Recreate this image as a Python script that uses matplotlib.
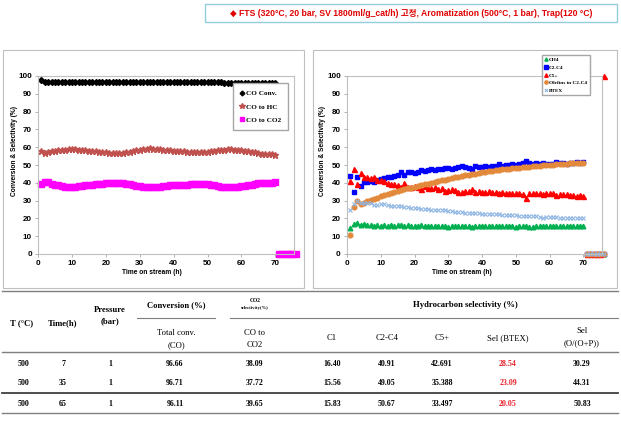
import matplotlib
matplotlib.use("Agg")
import matplotlib.pyplot as plt
from matplotlib.patches import Rectangle
from matplotlib.lines import Line2D

# ---- data -----------------------------------------------------------------
hours = list(range(1, 77))   # time on stream (h); 71-76 = after shutdown

co_conv = [97.6, 96.9, 96.8, 96.7, 96.7, 96.7, 96.66, 96.7, 96.7, 96.7,
           96.7, 96.7, 96.7, 96.7, 96.7, 96.7, 96.7, 96.7, 96.7, 96.7,
           96.7, 96.7, 96.7, 96.7, 96.8, 96.8, 96.8, 96.8, 96.8, 96.8,
           96.8, 96.8, 96.8, 96.7, 96.71, 96.7, 96.7, 96.7, 96.7, 96.6,
           96.6, 96.6, 96.6, 96.6, 96.5, 96.5, 96.5, 96.5, 96.5, 96.4,
           96.4, 96.4, 96.4, 96.4, 96.3, 96.3, 96.3, 96.3, 96.3, 96.3,
           96.2, 96.2, 96.2, 96.2, 96.11, 96.1, 96.1, 96.1, 96.1, 96.1,
           0, 0, 0, 0, 0, 0]
co_to_hc = [58.0, 56.5, 57.3, 57.8, 58.0, 58.3, 58.5, 58.7, 58.8, 58.8,
            58.8, 58.7, 58.5, 58.3, 58.1, 57.9, 57.7, 57.5, 57.3, 57.1,
            57.0, 56.9, 56.8, 56.8, 56.9, 57.2, 57.5, 57.9, 58.3, 58.7,
            59.0, 59.2, 59.3, 59.2, 59.0, 58.9, 58.7, 58.4, 58.2, 58.0,
            57.9, 57.8, 57.6, 57.5, 57.3, 57.2, 57.1, 57.1, 57.2, 57.4,
            57.7, 58.0, 58.3, 58.5, 58.7, 58.8, 58.8, 58.7, 58.5, 58.3,
            58.0, 57.7, 57.4, 57.1, 56.5, 56.4, 56.2, 56.0, 55.9, 55.7,
            0, 0, 0, 0, 0, 0]
co_to_co2 = [39.5, 40.5, 40.2, 39.5, 39.0, 38.5, 38.09, 37.9, 37.8, 37.8,
             37.9, 38.1, 38.3, 38.5, 38.7, 38.9, 39.1, 39.3, 39.5, 39.7,
             39.8, 39.9, 40.0, 40.0, 39.8, 39.5, 39.1, 38.7, 38.3, 38.0,
             37.7, 37.5, 37.4, 37.5, 37.72, 37.9, 38.1, 38.3, 38.5, 38.6,
             38.7, 38.8, 38.9, 39.0, 39.2, 39.3, 39.4, 39.4, 39.3, 39.1,
             38.8, 38.5, 38.2, 37.9, 37.7, 37.6, 37.6, 37.7, 37.9, 38.1,
             38.3, 38.5, 38.8, 39.1, 39.65, 39.7, 39.8, 40.0, 40.1, 40.2,
             0, 0, 0, 0, 0, 0]

sel_ch4 = [14.5, 17.0, 17.5, 16.5, 16.6, 16.5, 16.4, 16.0, 16.2, 16.0,
           16.2, 16.0, 16.1, 16.0, 16.2, 16.3, 15.8, 16.2, 16.0, 16.0,
           15.8, 16.1, 15.9, 15.8, 15.9, 15.6, 15.5, 15.7, 15.6, 15.4,
           15.6, 15.5, 15.6, 15.7, 15.56, 15.6, 15.4, 15.6, 15.5, 15.6,
           15.5, 15.6, 15.5, 15.6, 15.7, 15.5, 15.6, 15.5, 15.6, 15.4,
           15.5, 15.6, 15.9, 15.3, 15.4, 15.6, 15.5, 15.7, 15.5, 15.6,
           15.6, 15.8, 15.7, 15.8, 15.83, 15.9, 15.8, 16.0, 15.9, 15.8,
           0, 0, 0, 0, 0, 0]
sel_c2c4 = [44.0, 35.0, 43.0, 38.0, 40.5, 40.5, 40.9, 40.5, 41.5, 42.0,
            42.5, 43.0, 43.5, 44.0, 44.5, 46.0, 44.5, 46.0, 46.0, 45.5,
            46.0, 47.0, 46.5, 47.0, 47.5, 47.0, 48.0, 47.5, 48.5, 48.5,
            48.0, 48.5, 49.0, 49.5, 49.05, 48.5, 48.0, 49.5, 49.0, 49.0,
            49.5, 49.0, 49.5, 49.5, 50.5, 49.5, 50.0, 50.0, 50.5, 50.0,
            50.5, 51.0, 52.5, 51.0, 50.5, 51.0, 50.5, 51.0, 50.5, 50.5,
            50.5, 51.5, 51.0, 51.0, 50.67, 51.0, 51.0, 51.5, 51.0, 51.5,
            0, 0, 0, 0, 0, 0]
sel_c5 = [41.0, 48.0, 39.5, 45.5, 43.0, 43.0, 42.7, 43.5, 41.5, 41.5,
          41.0, 40.0, 39.5, 39.5, 39.0, 37.5, 40.0, 37.5, 37.5, 38.0,
          37.5, 36.5, 38.0, 37.0, 37.0, 37.5, 36.5, 37.0, 35.5, 36.0,
          36.5, 36.0, 35.0, 35.0, 35.39, 35.5, 36.5, 35.0, 35.5, 35.0,
          35.0, 35.5, 35.0, 35.0, 34.0, 35.0, 34.5, 34.5, 34.0, 34.5,
          34.0, 33.5, 31.5, 34.0, 34.5, 34.0, 34.0, 33.5, 34.0, 34.0,
          34.0, 33.0, 33.5, 33.5, 33.5, 33.0, 33.0, 32.5, 33.0, 32.5,
          0, 0, 0, 0, 0, 100]
sel_olefin = [10.5, 26.5, 30.0, 28.0, 28.8, 29.5, 30.3, 31.0, 31.7, 32.4,
              33.0, 33.6, 34.2, 34.8, 35.3, 35.8, 36.3, 36.8, 37.3, 37.8,
              38.3, 38.7, 39.2, 39.6, 40.1, 40.5, 40.9, 41.4, 41.8, 42.2,
              42.7, 43.1, 43.5, 43.9, 44.3, 44.6, 44.9, 45.2, 45.5, 45.8,
              46.1, 46.4, 46.7, 47.0, 47.2, 47.5, 47.7, 47.9, 48.1, 48.3,
              48.5, 48.7, 48.9, 49.1, 49.3, 49.5, 49.6, 49.8, 49.9, 50.0,
              50.2, 50.3, 50.5, 50.6, 50.8, 50.9, 51.0, 51.1, 51.2, 51.3,
              0, 0, 0, 0, 0, 0]
sel_btex = [24.5, 28.0, 30.0, 28.5, 28.5, 28.5, 28.54, 27.8, 27.5, 28.0,
            28.0, 27.5, 27.2, 27.0, 26.8, 27.0, 26.5, 26.3, 26.0, 26.0,
            25.8, 25.5, 25.2, 25.3, 25.0, 24.8, 24.7, 24.6, 24.5, 24.3,
            24.0, 23.8, 23.5, 23.4, 23.09, 23.2, 23.0, 22.9, 22.8, 22.7,
            22.6, 22.5, 22.4, 22.3, 22.5, 22.1, 22.0, 21.9, 21.8, 21.7,
            21.6, 21.5, 21.4, 21.3, 21.2, 21.1, 21.0, 20.5, 20.8, 20.9,
            20.8, 20.6, 20.4, 20.2, 20.05, 20.0, 20.0, 20.0, 20.0, 20.0,
            0, 0, 0, 0, 0, 0]

# summary table
tbl_temp = ["500", "500", "500"]
tbl_time = ["7", "35", "65"]
tbl_press = ["1", "1", "1"]
tbl_conv = ["96.66", "96.71", "96.11"]
tbl_co2 = ["38.09", "37.72", "39.65"]
tbl_c1 = ["16.40", "15.56", "15.83"]
tbl_c2c4 = ["40.91", "49.05", "50.67"]
tbl_c5 = ["42.691", "35.388", "33.497"]
tbl_btex = ["28.54", "23.09", "20.05"]
tbl_ole = ["30.29", "44.31", "50.83"]

TITLE = "\u25c6 FTS (320\u00b0C, 20 bar, SV 1800ml/g_cat/h) 고정, Aromatization (500\u00b0C, 1 bar), Trap(120 \u00b0C)"

# ---- layout helpers (pixel coords of the 621x422 picture) -----------------
W, H = 621, 422
SANS = ["Liberation Sans", "DejaVu Sans"]
SERIF = ["Liberation Serif", "DejaVu Serif"]


def fx(x):
    return x / W


def fy(y):
    return 1 - y / H


def hline(fig, x0, x1, y, color="#7F7F7F", lw=1.0):
    fig.add_artist(Line2D([fx(x0), fx(x1)], [fy(y), fy(y)],
                          transform=fig.transFigure, color=color, lw=lw))


def box(fig, x0, y0, x1, y1, ec, lw=0.8):
    fig.add_artist(Rectangle((fx(x0), fy(y1)), (x1 - x0) / W, (y1 - y0) / H,
                             transform=fig.transFigure, fill=False, ec=ec, lw=lw))


def style_axes(ax):
    ax.set_xlim(0, 75.5)
    ax.set_ylim(0, 100)
    ax.set_xticks(range(0, 71, 10))
    ax.set_yticks(range(0, 101, 10))
    for s in ax.spines.values():
        s.set_color("#BFBFBF")
        s.set_linewidth(0.8)
    ax.tick_params(length=2, width=0.6, color="#A6A6A6", pad=2.5,
                   labelsize=5.8)
    for lab in ax.get_xticklabels() + ax.get_yticklabels():
        lab.set_family(SANS)
        lab.set_fontweight("bold")


fig = plt.figure(figsize=(W / 100, H / 100), dpi=100)

# title box
box(fig, 205, 4, 617, 22, ec="#92CDDC", lw=1.0)
fig.text(fx(411), fy(13.5), TITLE, ha="center", va="center", color="#E00000",
         fontsize=6.2, fontweight="bold",
         family=["Liberation Sans", "DejaVu Sans", "Noto Sans CJK KR"])

# chart panels
box(fig, 3, 50, 304, 288, ec="#BFBFBF")
box(fig, 313, 50, 617, 288, ec="#BFBFBF")

# ---- left chart: conversion ----------------------------------------------
ax1 = fig.add_axes([fx(38), fy(254), (294 - 38) / W, (254 - 76) / H])
ax1.plot(hours, co_conv, ls="none", marker="D", ms=3.0, color="black",
         clip_on=False, label="CO Conv.")
ax1.plot(hours, co_to_hc, ls="none", marker="*", ms=5.0, color="#C0504D",
         clip_on=False, label="CO to HC")
ax1.plot(hours, co_to_co2, ls="none", marker="s", ms=3.8, color="#FF00FF",
         clip_on=False, label="CO to CO2")
style_axes(ax1)
ax1.legend(loc="upper left", bbox_to_anchor=(fx(233), fy(83)),
           bbox_transform=fig.transFigure,
           prop=dict(family=SERIF, weight="bold", size=5.2),
           fancybox=False, edgecolor="#A6A6A6", framealpha=1,
           borderpad=1.0, labelspacing=1.0, handlelength=0.6,
           handletextpad=0.2, borderaxespad=0, markerscale=0.8)

# ---- right chart: hydrocarbon selectivity --------------------------------
ax2 = fig.add_axes([fx(347), fy(254), (602 - 347) / W, (254 - 76) / H])
ax2.plot(hours, sel_ch4, ls="none", marker="^", ms=3.3, color="#00B050",
         clip_on=False, label="CH4")
ax2.plot(hours, sel_c2c4, ls="none", marker="s", ms=3.4, color="#0000FF",
         clip_on=False, label="C2-C4")
ax2.plot(hours, sel_c5, ls="none", marker="^", ms=3.6, color="#FF0000",
         clip_on=False, label="C5+")
ax2.plot(hours, sel_olefin, ls="none", marker="o", ms=3.4, color="#E3893B",
         clip_on=False, label="Olefins in C2-C4")
ax2.plot(hours, sel_btex, ls="none", marker="x", ms=2.8, mew=0.8,
         color="#8DB4E2", clip_on=False, label="BTEX")
style_axes(ax2)
ax2.legend(loc="upper left", bbox_to_anchor=(fx(542), fy(55)),
           bbox_transform=fig.transFigure,
           prop=dict(family=SERIF, weight="bold", size=3.8),
           fancybox=False, edgecolor="#A6A6A6", framealpha=1,
           borderpad=0.5, labelspacing=0.55, handlelength=0.6,
           handletextpad=0.2, borderaxespad=0, markerscale=0.7)

for xc, xl in [(15, 152), (323, 462)]:
    fig.text(fx(xc), fy(151), "Conversion & Selectivity (%)", rotation=90,
             ha="center", va="center", fontsize=4.8, fontweight="bold",
             family=SANS)
    fig.text(fx(xl), fy(272), "Time on stream (h)", ha="center", va="center",
             fontsize=4.8, fontweight="bold", family=SANS)

# ---- table -----------------------------------------------------------------
hline(fig, 2, 618, 291)
hline(fig, 137, 215, 318, lw=0.8)
hline(fig, 230, 618, 318, lw=0.8)
hline(fig, 2, 618, 352)
hline(fig, 2, 618, 393, color="#404040", lw=1.3)
hline(fig, 2, 618, 413)


def ttext(x, y, s, size=6.2, bold=True, color="black"):
    fig.text(fx(x), fy(y), s, ha="center", va="center", fontsize=size,
             fontweight="bold" if bold else "normal", color=color,
             family=SERIF)


ttext(22, 323, "T (\u00b0C)")
ttext(63, 323, "Time(h)")
ttext(110, 310, "Pressure")
ttext(110, 321, "(bar)")
ttext(176, 305, "Conversion (%)")
ttext(255, 300, "CO2", size=4.0)
ttext(255, 308, "selectivity(%)", size=3.3)
ttext(465, 305, "Hydrocarbon selectivity (%)")

ttext(176, 333, "Total conv.", bold=False)
ttext(176, 345, "(CO)", bold=False)
ttext(255, 333, "CO to", bold=False)
ttext(255, 345, "CO2", bold=False)
ttext(332, 338, "C1", bold=False)
ttext(387, 338, "C2-C4", bold=False)
ttext(442, 338, "C5+", bold=False)
ttext(508, 338, "Sel (BTEX)", bold=False)
ttext(582, 331, "Sel", bold=False)
ttext(582, 343, "(O/(O+P))", bold=False)

row_y = [364, 383, 404]
cols = [(23, tbl_temp), (63, tbl_time), (110, tbl_press), (175, tbl_conv),
        (255, tbl_co2), (332, tbl_c1), (387, tbl_c2c4), (442, tbl_c5),
        (582, tbl_ole)]
for i, y in enumerate(row_y):
    for x, vals in cols:
        ttext(x, y, vals[i], size=5.7)
    ttext(508, y, tbl_btex[i], size=5.7, color="#E8202A")

fig.savefig("out.png", dpi=100)
